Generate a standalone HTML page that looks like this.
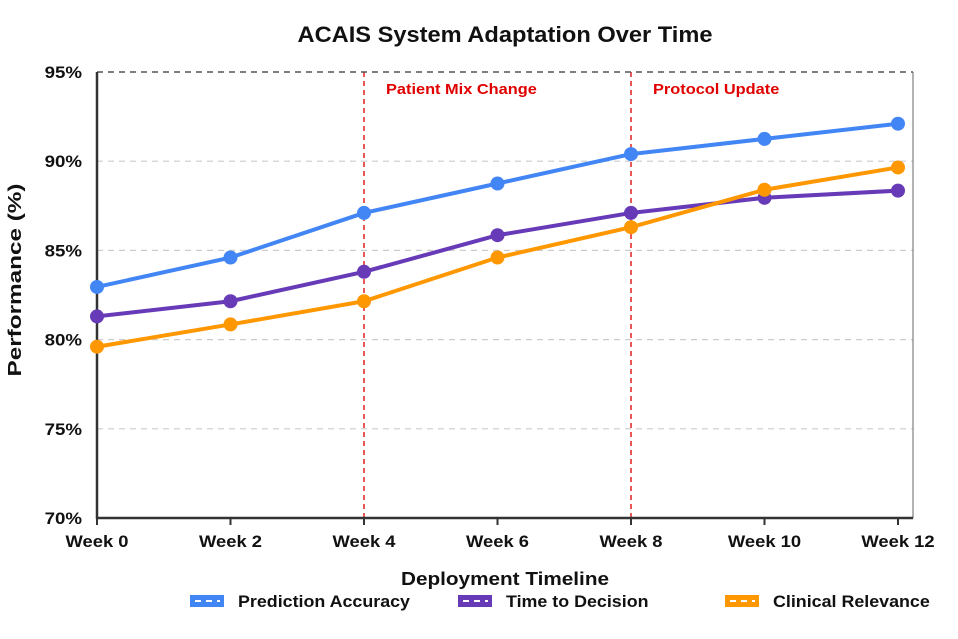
<!DOCTYPE html>
<html><head><meta charset="utf-8"><style>
body{margin:0;background:#fff;font-family:"Liberation Sans",Arial,sans-serif}
svg text{font-family:"Liberation Sans",Arial,sans-serif;font-weight:bold}
</style></head><body>
<svg id="chart" width="958" height="634" viewBox="0 0 958 634" xmlns="http://www.w3.org/2000/svg">
<text x="505" y="42" text-anchor="middle" font-size="22" fill="#111" textLength="415" lengthAdjust="spacingAndGlyphs">ACAIS System Adaptation Over Time</text>
<g id="grid"></g><g id="ann"></g><g id="axes"></g><g id="series"></g>
<text x="505" y="585" text-anchor="middle" font-size="18" fill="#111" textLength="208" lengthAdjust="spacingAndGlyphs">Deployment Timeline</text>
<text transform="translate(21,280) rotate(-90)" text-anchor="middle" font-size="18" fill="#111" textLength="193" lengthAdjust="spacingAndGlyphs">Performance (%)</text>
<g id="legend"></g>
</svg>
<script>
const categories=["Week 0","Week 2","Week 4","Week 6","Week 8","Week 10","Week 12"];
const prediction=[82.95,84.6,87.1,88.75,90.4,91.25,92.1];
const timeToDecision=[81.3,82.15,83.8,85.85,87.1,87.95,88.35];
const clinical=[79.6,80.85,82.15,84.6,86.3,88.4,89.65];
const yTicks=[70,75,80,85,90,95];
const annotations=[{i:2,label:"Patient Mix Change"},{i:4,label:"Protocol Update"}];
const NS="http://www.w3.org/2000/svg";
const X0=97,X1=898,Y0=518,Y1=72,RIGHT=913;
const x=i=>X0+(X1-X0)*i/(categories.length-1);
const y=v=>Y0-(v-70)/25*(Y0-Y1);
function mk(tag,attrs,parent,text){const e=document.createElementNS(NS,tag);for(const k in attrs)e.setAttribute(k,attrs[k]);if(text!==undefined)e.textContent=text;document.getElementById(parent).appendChild(e);return e;}
function widen(t,f){const w=t.getComputedTextLength();t.setAttribute('textLength',(w*f).toFixed(1));t.setAttribute('lengthAdjust','spacingAndGlyphs');}
yTicks.forEach(t=>{
  if(t>70&&t<95){const g=mk('line',{x1:X0,x2:RIGHT,y1:y(t),y2:y(t),stroke:'#ccc','stroke-width':1.2,'stroke-dasharray':'6,5'},'grid');
  
  }
  const l=mk('text',{x:82,y:y(t)+6,'text-anchor':'end','font-size':17,fill:'#111'},'axes',t+'%');
  
  
  widen(l,1.1);
});
const tp=mk('line',{x1:X0,x2:RIGHT,y1:Y1,y2:Y1,stroke:'#555','stroke-width':1.5,'stroke-dasharray':'6,5'},'axes');


const rb=mk('line',{x1:RIGHT,x2:RIGHT,y1:Y1,y2:Y0,stroke:'#666','stroke-width':1},'axes');


annotations.forEach(a=>{
  const l=mk('line',{x1:x(a.i),x2:x(a.i),y1:Y1,y2:Y0,stroke:'#e02020','stroke-width':1.5,'stroke-dasharray':'5,4'},'ann');
  
  
  const t=mk('text',{x:x(a.i)+22,y:94,'font-size':15,fill:'#e00000'},'ann',a.label);
  
  
  widen(t,1.09);
});
const ya=mk('line',{x1:X0,x2:X0,y1:Y1,y2:Y0+1,stroke:'#333','stroke-width':2.5},'axes');


const xa=mk('line',{x1:X0-1,x2:RIGHT,y1:Y0,y2:Y0,stroke:'#333','stroke-width':2.5},'axes');


categories.forEach((c,i)=>{
  const tk=mk('line',{x1:x(i),x2:x(i),y1:Y0,y2:Y0+7,stroke:'#333','stroke-width':2},'axes');
  
  
  const t=mk('text',{x:x(i),y:547,'text-anchor':'middle','font-size':17,fill:'#111'},'axes',c);
  
  
  widen(t,1.08);
});
const series=[{d:prediction,c:'#4285f4',n:'Prediction Accuracy',lx:190},{d:timeToDecision,c:'#673ab7',n:'Time to Decision',lx:458},{d:clinical,c:'#ff9800',n:'Clinical Relevance',lx:725}];
series.forEach(s=>{
  const p=mk('polyline',{points:s.d.map((v,i)=>x(i)+','+y(v)).join(' '),fill:'none',stroke:s.c,'stroke-width':4,'stroke-linejoin':'round'},'series');
  
  
  s.d.forEach((v,i)=>{const c=mk('circle',{cx:x(i),cy:y(v),r:7,fill:s.c},'series');
  
  });
  const r=mk('rect',{x:s.lx,y:595,width:34,height:12,fill:s.c},'legend');
  
  
  const d=mk('line',{x1:s.lx+5,x2:s.lx+30,y1:601,y2:601,stroke:'#fff','stroke-width':2,'stroke-dasharray':'6,5'},'legend');
  
  
  const t=mk('text',{x:s.lx+48,y:607,'font-size':17,fill:'#111'},'legend',s.n);
  
  
  widen(t,1.05);
});
</script>
</body></html>
